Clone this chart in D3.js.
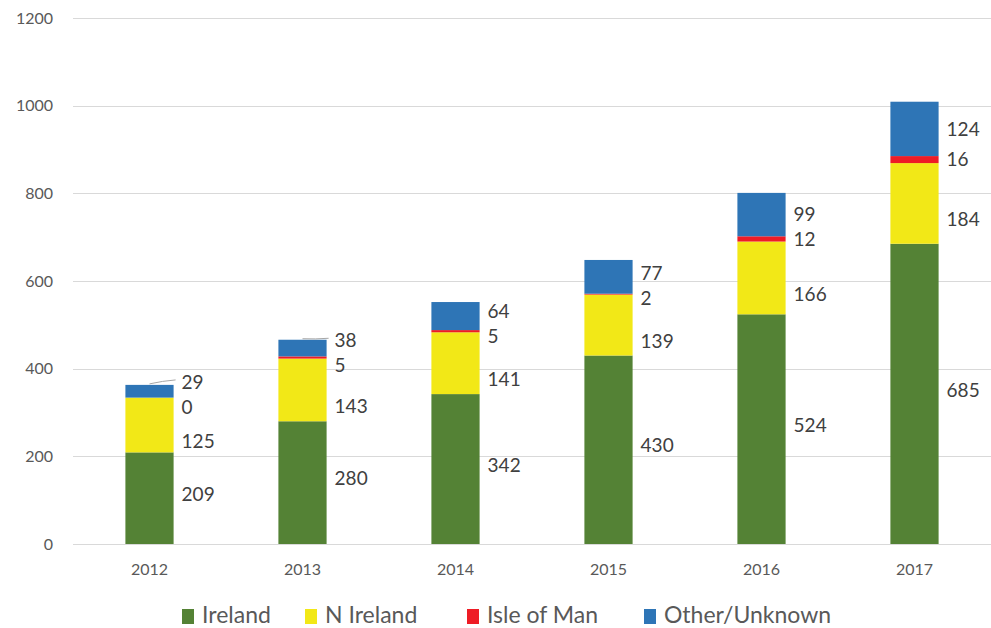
<!DOCTYPE html>
<html>
<head>
<meta charset="utf-8">
<script src="https://cdn.jsdelivr.net/npm/d3@7"></script>
<style>
  body { margin: 0; background: #fff; }
  text { font-family: Lato, "Liberation Sans", sans-serif; }
</style>
</head>
<body>
<div id="graf"></div>
<script>
const years = ["2012", "2013", "2014", "2015", "2016", "2017"]
const seriesNames = ["Ireland", "N Ireland", "Isle of Man", "Other/Unknown"]
const ireland = [209, 280, 342, 430, 524, 685]
const nIreland = [125, 143, 141, 139, 166, 184]
const isleOfMan = [0, 5, 5, 2, 12, 16]
const other = [29, 38, 64, 77, 99, 124]
const yTicks = [0, 200, 400, 600, 800, 1000, 1200]
const colores = ["#548235", "#f2e817", "#ee1c25", "#2e75b6"]
// small vertical nudge of the labels per series (px), as in the original
const labelNudge = [-4, 16, 0, 0]

const anchoTotal = 991
const altoTotal = 628
const margins = { top: 18, right: 0, bottom: 84, left: 73 }
const ancho = anchoTotal - margins.left - margins.right
const alto = altoTotal - margins.top - margins.bottom

const svg = d3.select("#graf")
  .append("svg")
  .attr("width", anchoTotal)
  .attr("height", altoTotal)

const g = svg.append("g")
  .attr("transform", `translate(${margins.left}, ${margins.top})`)

const rows = years.map((yr, i) => ({
  year: yr,
  "Ireland": ireland[i],
  "N Ireland": nIreland[i],
  "Isle of Man": isleOfMan[i],
  "Other/Unknown": other[i],
}))

const stack = d3.stack().keys(seriesNames)(rows)

const x = d3.scaleBand().domain(years).range([0, ancho]).paddingInner(0.685).paddingOuter(0.3425)
const y = d3.scaleLinear().domain([0, 1200]).range([alto, 0])

// grid
g.selectAll(".grid")
  .data(yTicks)
  .enter()
  .append("line")
  .attr("x1", 0)
  .attr("x2", ancho)
  .attr("y1", (d) => Math.round(y(d)) + 0.5)
  .attr("y2", (d) => Math.round(y(d)) + 0.5)
  .attr("stroke", "#d9d9d9")
  .attr("stroke-width", 1)

// y axis labels
const yAxis = g.append("g")
  .call(d3.axisLeft(y).tickValues(yTicks).tickFormat(d3.format("d")).tickSize(0).tickPadding(20))
yAxis.select(".domain").remove()
yAxis.selectAll("text").attr("font-size", 16).attr("fill", "#595959")
  .attr("font-family", "Lato, 'Liberation Sans', sans-serif")

// x axis labels
const xAxis = g.append("g")
  .attr("transform", `translate(0, ${alto})`)
  .call(d3.axisBottom(x).tickSize(0).tickPadding(20))
xAxis.select(".domain").remove()
xAxis.selectAll("text").attr("font-size", 16).attr("fill", "#595959")
  .attr("font-family", "Lato, 'Liberation Sans', sans-serif")

// bars
g.selectAll(".serie")
  .data(stack)
  .enter()
  .append("g")
  .attr("fill", (d, i) => colores[i])
  .selectAll("rect")
  .data((d) => d)
  .enter()
  .append("rect")
  .attr("x", (d) => x(d.data.year))
  .attr("y", (d) => y(d[1]))
  .attr("width", x.bandwidth())
  .attr("height", (d) => y(d[0]) - y(d[1]))

// data labels with simple overlap relaxation
const gap = 25
years.forEach((yr, i) => {
  const labs = stack.map((s, si) => ({
    v: s[i][1] - s[i][0],
    top: y(s[i][1]),
    y0: y((s[i][0] + s[i][1]) / 2) + labelNudge[si],
  }))
  labs.forEach((l) => (l.y = l.y0))
  const ordered = labs.slice().reverse()
  for (let k = 0; k < 100; k++) {
    for (let j = 0; j < ordered.length - 1; j++) {
      const a = ordered[j]
      const b = ordered[j + 1]
      const d = b.y - a.y
      if (d < gap) {
        const push = (gap - d) / 2
        a.y -= push
        b.y += push
      }
    }
  }
  const lx = x(yr) + x.bandwidth() + 8
  labs.forEach((l) => {
    // leader line only when a label had to move up off its segment
    if (l.y0 - l.y > 6) {
      const x1 = x(yr) + x.bandwidth() * 0.5
      const y1 = l.top - 1
      const x2 = lx - 6
      g.append("path")
        .attr("d", `M${x1},${y1} Q${(x1 + x2) / 2},${l.y - 1} ${x2},${l.y - 2}`)
        .attr("fill", "none")
        .attr("stroke", "#a6a6a6")
        .attr("stroke-width", 1)
    }
    g.append("text")
      .attr("x", lx)
      .attr("y", l.y)
      .attr("dy", "0.35em")
      .attr("font-size", 19)
      .attr("fill", "#404040")
      .text(l.v)
  })
})

// legend
const legendX = [182, 305, 467, 644]
const legend = svg.append("g").attr("transform", `translate(0, 615)`)
seriesNames.forEach((name, i) => {
  const item = legend.append("g").attr("transform", `translate(${legendX[i]}, 0)`)
  item.append("rect")
    .attr("x", 0)
    .attr("y", -6)
    .attr("width", 12)
    .attr("height", 15)
    .attr("fill", colores[i])
  item.append("text")
    .attr("x", 20)
    .attr("y", 0)
    .attr("dy", "0.35em")
    .attr("font-size", 23)
    .attr("fill", "#595959")
    .text(name)
})
</script>
</body>
</html>
